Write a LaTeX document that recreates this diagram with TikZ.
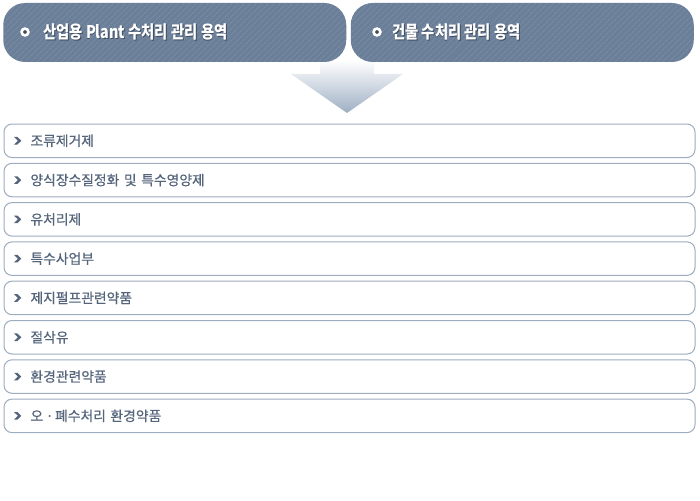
\documentclass[tikz,border=0pt]{standalone}
\usepackage{fontspec}
\newfontfamily\kr{Noto Sans CJK KR}
\newfontfamily\krm[FakeBold=0.5]{Noto Sans CJK KR}
\usetikzlibrary{patterns.meta}
\definecolor{tabc}{HTML}{6C7F99}
\definecolor{tabh}{HTML}{8194AC}
\definecolor{tabsh}{HTML}{3F4C5E}
\definecolor{rowb}{HTML}{9DACBE}
\definecolor{rowt}{HTML}{55657B}
\definecolor{arrb}{HTML}{9EAFC4}
\newcommand{\shtext}[1]{\makebox[0pt][l]{\raisebox{-1pt}{\hspace{1pt}\color{tabsh}#1}}\color{white}#1}
\tikzset{
  tabbox/.style={fill=tabc, rounded corners=22pt, minimum width=343pt, minimum height=59pt, inner sep=0pt,
    postaction={pattern={Lines[angle=45,distance=4pt,line width=0.6pt]}, pattern color=tabh}},
  tabtext/.style={anchor=west, inner sep=0pt, font=\kr\bfseries\fontsize{17.5}{19}\selectfont},
  rowbox/.style={draw=rowb, line width=1pt, fill=white, rounded corners=8pt, minimum width=691pt,
    minimum height=33.5pt, inner xsep=26.5pt, inner ysep=0pt, text width=638pt, align=left,
    text=rowt, font=\krm\fontsize{13.8}{15}\selectfont, anchor=north west},
  chev/.style={fill=rowt},
  ring/.style={draw=white, line width=2.6pt, fill=tabsh}
}
\begin{document}
\begin{tikzpicture}[x=1pt,y=-1pt]
\useasboundingbox (0,0) rectangle (700,500);
% arrow
\shade[top color=white, bottom color=arrb] (320,60) -- (374,60) -- (374,74) -- (403,74) -- (347,113) -- (291,74) -- (320,74) -- cycle;
% tabs
\node[tabbox] (t1) at (174.75,32.5) {};
\node[tabbox] (t2) at (522.25,32.5) {};
\draw[ring] (25,32) circle (3.4pt);
\draw[ring] (377,32) circle (3.4pt);
\node[tabtext] (l1) at (43,32) {\scalebox{0.82}[1]{\shtext{산업용 Plant 수처리 관리 용역}}};
\node[tabtext] (l2) at (392,32) {\scalebox{0.82}[1]{\shtext{건물 수처리 관리 용역}}};
% rows
\foreach \i/\t in {0/조류제거제, 1/양식장수질정화 및 특수영양제, 2/유처리제, 3/특수사업부, 4/제지펄프관련약품, 5/절삭유, 6/환경관련약품, 7/{오\hspace{-2pt} ·\hspace{-3pt} 폐수처리 환경약품}}{
  \pgfmathsetmacro{\rtop}{123.5+39.3*\i}
  \node[rowbox] (r\i) at (3.5,\rtop) {\t};
  \fill[chev] ([xshift=10.5pt,yshift=3.8pt]r\i.west) -- ++(3.4,0) -- ++(3.9,3.8) -- ++(-3.9,3.8) -- ++(-3.4,0) -- ++(3.9,-3.8) -- cycle;
}
\end{tikzpicture}
\end{document}
